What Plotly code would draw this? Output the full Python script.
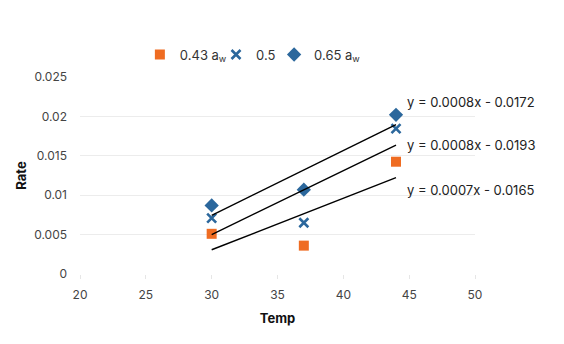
import numpy as np
import plotly.graph_objects as go

# Reaction rate vs temperature at three water activities
temps = [30, 37, 44]
rate_043 = [0.0051, 0.0036, 0.01425]
rate_05 = [0.0071, 0.0065, 0.01845]
rate_065 = [0.0087, 0.0107, 0.0202]

series_names = ["0.43 a<sub>w</sub>", "0.5", "0.65 a<sub>w</sub>"]
x_ticks = [20, 25, 30, 35, 40, 45, 50]
y_ticks = [0, 0.005, 0.01, 0.015, 0.02, 0.025]
y_tick_text = ["0", "0.005", "0.01", "0.015", "0.02", "0.025"]

ORANGE = "#EF6C22"
BLUE = "#2B679C"
FONT = "Inter"

fig = go.Figure()

fig.add_trace(go.Scatter(
    x=temps, y=rate_043, mode="markers", name=series_names[0],
    legend="legend",
    marker=dict(symbol="square", size=10, color=ORANGE),
))
fig.add_trace(go.Scatter(
    x=temps, y=rate_05, mode="markers", name=series_names[1],
    legend="legend2",
    marker=dict(symbol="x-thin", size=9, color=BLUE,
                line=dict(color=BLUE, width=2.6)),
))
fig.add_trace(go.Scatter(
    x=temps, y=rate_065, mode="markers", name=series_names[2],
    legend="legend3",
    marker=dict(symbol="diamond", size=11, color=BLUE),
))


def fmt_eq(slope, intercept):
    sign = "-" if intercept < 0 else "+"
    return f"y = {slope:.4f}x {sign} {abs(intercept):.4f}"


# Linear trendlines over the measured temperature range, with equations
label_shift = (23, 0, -12)  # vertical nudge of each equation label, px
for rates, dy in zip((rate_065, rate_05, rate_043), label_shift):
    slope, intercept = np.polyfit(temps, rates, 1)
    xs = [min(temps), max(temps)]
    ys = [slope * xv + intercept for xv in xs]
    fig.add_trace(go.Scatter(
        x=xs, y=ys, mode="lines", showlegend=False, hoverinfo="skip",
        line=dict(color="black", width=1.4),
    ))
    fig.add_annotation(
        x=max(temps), y=ys[1], xref="x", yref="y",
        text=fmt_eq(slope, intercept), showarrow=False,
        xanchor="left", yanchor="middle", xshift=9, yshift=dy,
        font=dict(family=FONT, size=13, color="#222222"),
    )

# One compact legend box per series, laid out in a row above the plot
legend_style = dict(
    orientation="h", y=0.885, xref="container", yref="container",
    xanchor="left", yanchor="top", itemwidth=30, tracegroupgap=0,
    bgcolor="rgba(0,0,0,0)",
    font=dict(family=FONT, size=13, color="#333333"),
)

fig.update_layout(
    width=564, height=344,
    margin=dict(l=80, r=89, t=77, b=70, autoexpand=False),
    paper_bgcolor="white", plot_bgcolor="white",
    font=dict(family=FONT, color="#444444", size=12),
    showlegend=True,
    legend=dict(x=0.248, **legend_style),
    legend2=dict(x=0.383, **legend_style),
    legend3=dict(x=0.486, **legend_style),
    xaxis=dict(
        range=[20, 50], tickvals=x_ticks, showgrid=False, zeroline=False,
        showline=False, ticks="outside", ticklen=4, tickcolor="#e6e6e6",
        ticklabelstandoff=6,
        tickfont=dict(family=FONT, size=12, color="#444444"),
        title=dict(text="<b>Temp</b>", standoff=12,
                   font=dict(family=FONT, size=13, color="#111111")),
    ),
    yaxis=dict(
        range=[0, 0.025], tickvals=y_ticks, ticktext=y_tick_text,
        showgrid=True, gridcolor="#ececec", gridwidth=1, zeroline=False,
        showline=False, ticks="", ticklabelstandoff=12,
        tickfont=dict(family=FONT, size=12, color="#444444"),
        title=dict(text="<b>Rate</b>", standoff=4,
                   font=dict(family=FONT, size=13, color="#111111")),
    ),
)

fig.write_html("out.html")
